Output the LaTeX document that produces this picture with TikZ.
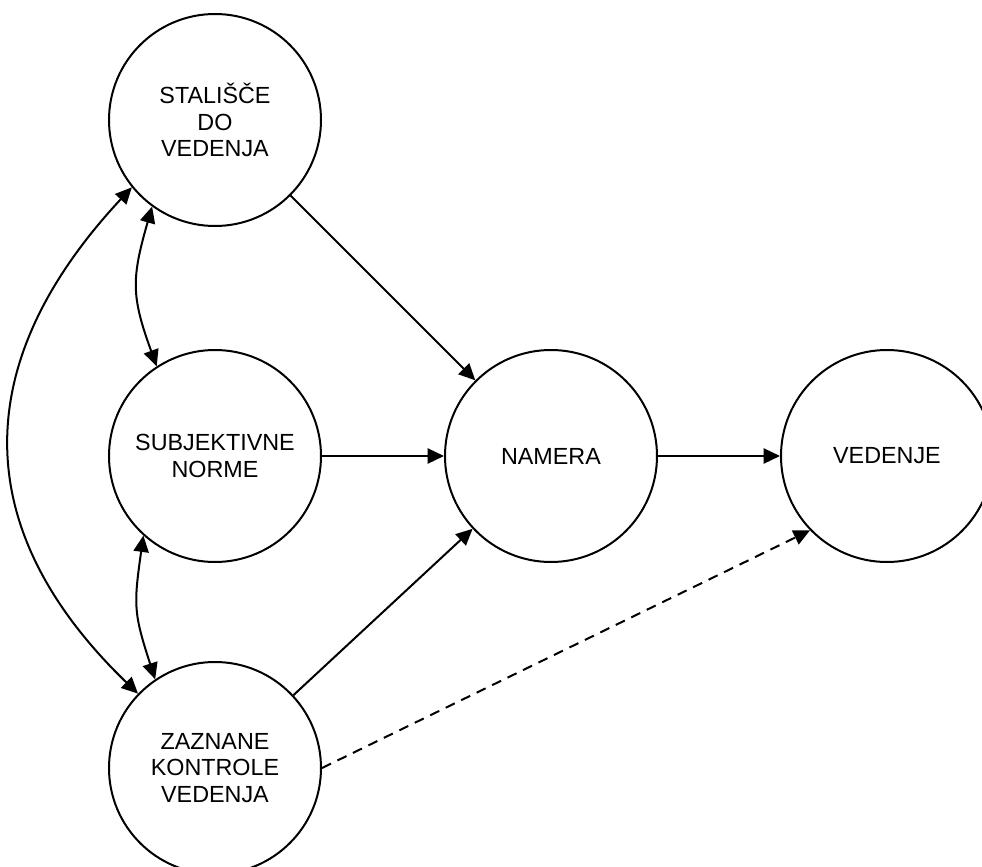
\documentclass[tikz,border=0pt]{standalone}
\usepackage{fontspec}
\setmainfont{Liberation Sans}
\usetikzlibrary{arrows.meta}
\tikzstyle{myCircle} = [circle, draw, line width=.05cm, minimum size=5.3cm, inner sep=0pt, align=center, font=\fontsize{16.6pt}{18.8pt}\selectfont]
\tikzstyle{myArrow} = [line width=.05cm, -{Triangle[length=.41cm,width=.38cm]}]
\tikzstyle{myBoth} = [line width=.05cm, {Triangle[length=.41cm,width=.38cm]}-{Triangle[length=.41cm,width=.38cm]}]

\begin{document}
\begin{tikzpicture}[node distance=8.4cm]
		\useasboundingbox (-5.375,3) rectangle (19.175,-18.675);
		\node [myCircle](stal){STALIŠČE\\DO\\VEDENJA};
		\node [myCircle,below of=stal](subj){SUBJEKTIVNE\\NORME};
		\node [myCircle,below of=subj,yshift=.6cm](zazn){ZAZNANE\\KONTROLE\\VEDENJA};
		\node [myCircle,right of=subj](nam){NAMERA};
		\node [myCircle,right of=nam](ved){VEDENJE};
		
		% poti do namere
		\draw [myArrow] (stal) -- (nam);
		\draw [myArrow] (subj) -- (nam);
		\draw [myArrow] (zazn) -- (nam);
		\draw [myArrow] (nam) -- (ved);
		\draw [myArrow,dashed,dash pattern=on .25cm off .18cm] (zazn.0) -- (ved.224);
		
		% korelacije
		\draw [myBoth] (stal.234) to[out=254,in=110,looseness=1.2] (subj.123);
		\draw [myBoth] (subj.228) to[out=262,in=108,looseness=1.25] (zazn.124);
		\draw [myBoth] (stal.219) to[out=227,in=136,looseness=1.2] (zazn.136);
\end{tikzpicture}
\end{document}
